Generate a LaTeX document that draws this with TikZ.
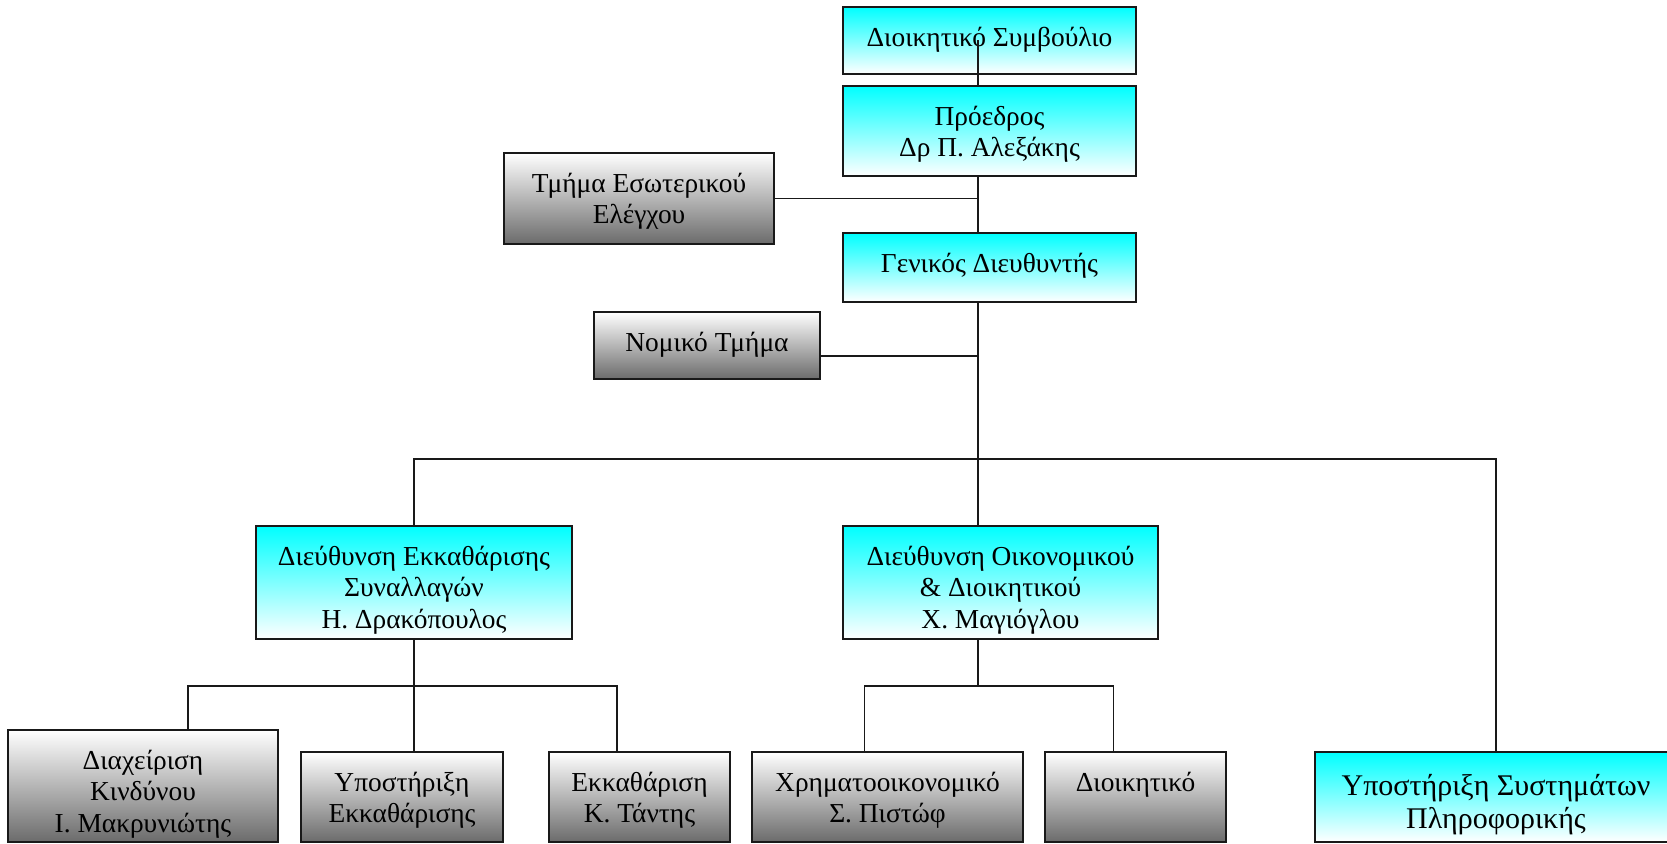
\documentclass[tikz,border=0pt]{standalone}
\usepackage{fontspec}
\setmainfont{Liberation Serif}
\usetikzlibrary{calc}
\tikzset{
  orgnode/.style={draw=black!90, line width=1.3pt, rectangle, inner sep=0pt, outer sep=0pt, anchor=north west},
  cyanbox/.style={orgnode, top color=cyan, bottom color=white},
  graybox/.style={orgnode, top color=white, bottom color=black!58},
  lbl/.style={anchor=north, align=center, inner sep=0pt, font=\fontsize{27.4}{31.7}\selectfont, yshift=-16.8pt},
  biglbl/.style={font=\fontsize{30}{33.5}\selectfont, yshift=-2.75pt},
  conn/.style={draw=black!90, line width=1.3pt},
}
\newcommand\orgbox[8]{%
  \node[#2, minimum width=#6pt-#4pt, minimum height=#7pt-#5pt] (#1) at (#4,#5) {};
  \node[lbl,#3] (#1-t) at (#1.north) {\strut #8};
}
\begin{document}
\begin{tikzpicture}[x=1pt,y=-1pt]
\useasboundingbox (0,0) rectangle (1667,843);
\orgbox{ds}{cyanbox}{}{843}{7}{1136}{74}{Διοικητικό Συμβούλιο}
\orgbox{pr}{cyanbox}{}{843}{86}{1136}{176}{Πρόεδρος\\Δρ Π. Αλεξάκης}
\orgbox{gd}{cyanbox}{}{843}{233}{1136}{302}{Γενικός Διευθυντής}
\orgbox{te}{graybox}{}{504}{153}{774}{244}{Τμήμα Εσωτερικού\\Ελέγχου}
\orgbox{nt}{graybox}{}{594}{312}{820}{379}{Νομικό Τμήμα}
\orgbox{de}{cyanbox}{}{256}{526}{572}{639}{Διεύθυνση Εκκαθάρισης\\Συναλλαγών\\Η. Δρακόπουλος}
\orgbox{do}{cyanbox}{}{843}{526}{1158}{639}{Διεύθυνση Οικονομικού\\\& Διοικητικού\\Χ. Μαγιόγλου}
\orgbox{dk}{graybox}{}{8}{730}{278}{842}{Διαχείριση\\Κινδύνου\\Ι. Μακρυνιώτης}
\orgbox{ye}{graybox}{}{301}{752}{503}{842}{Υποστήριξη\\Εκκαθάρισης}
\orgbox{ek}{graybox}{}{549}{752}{730}{842}{Εκκαθάριση\\Κ. Τάντης}
\orgbox{xo}{graybox}{}{752}{752}{1023}{842}{Χρηματοοικονομικό\\Σ. Πιστώφ}
\orgbox{di}{graybox}{}{1045}{752}{1226}{842}{Διοικητικό}
\orgbox{ys}{cyanbox}{biglbl}{1315}{752}{1677}{842}{Υποστήριξη Συστημάτων\\Πληροφορικής}

\coordinate (spine) at (978,0);
\coordinate (bus) at (978,459);
\coordinate (b2) at (414,686);
\coordinate (b2l) at (188,686);
\coordinate (b2r) at (617,686);
\coordinate (b3) at (978,686);
\coordinate (b3l) at (864.5,686);
\coordinate (b3r) at (1113.5,686);

\draw[conn] (ds.center -| spine) -- (pr.north -| spine);
\draw[conn] (pr.south -| spine) -- (gd.north -| spine);
\draw[conn] (te.east) -- (te.east -| spine);
\draw[conn] (gd.south -| spine) -- (bus);
\draw[conn] ([yshift=-10.5pt]nt.east) -- ([yshift=-10.5pt]nt.east -| spine);
\draw[conn] (de.north) |- (bus) -| (ys.north);
\draw[conn] (bus) -- (do.north -| bus);
\draw[conn] (de.south) -- (b2) -- (ye.north -| b2);
\draw[conn] (b2l |- dk.north) -- (b2l) -- (b2r) -- (b2r |- ek.north);
\draw[conn] (do.south -| b3) -- (b3);
\draw[conn] (b3l |- xo.north) -- (b3l) -- (b3r) -- (b3r |- di.north);
\end{tikzpicture}
\end{document}
